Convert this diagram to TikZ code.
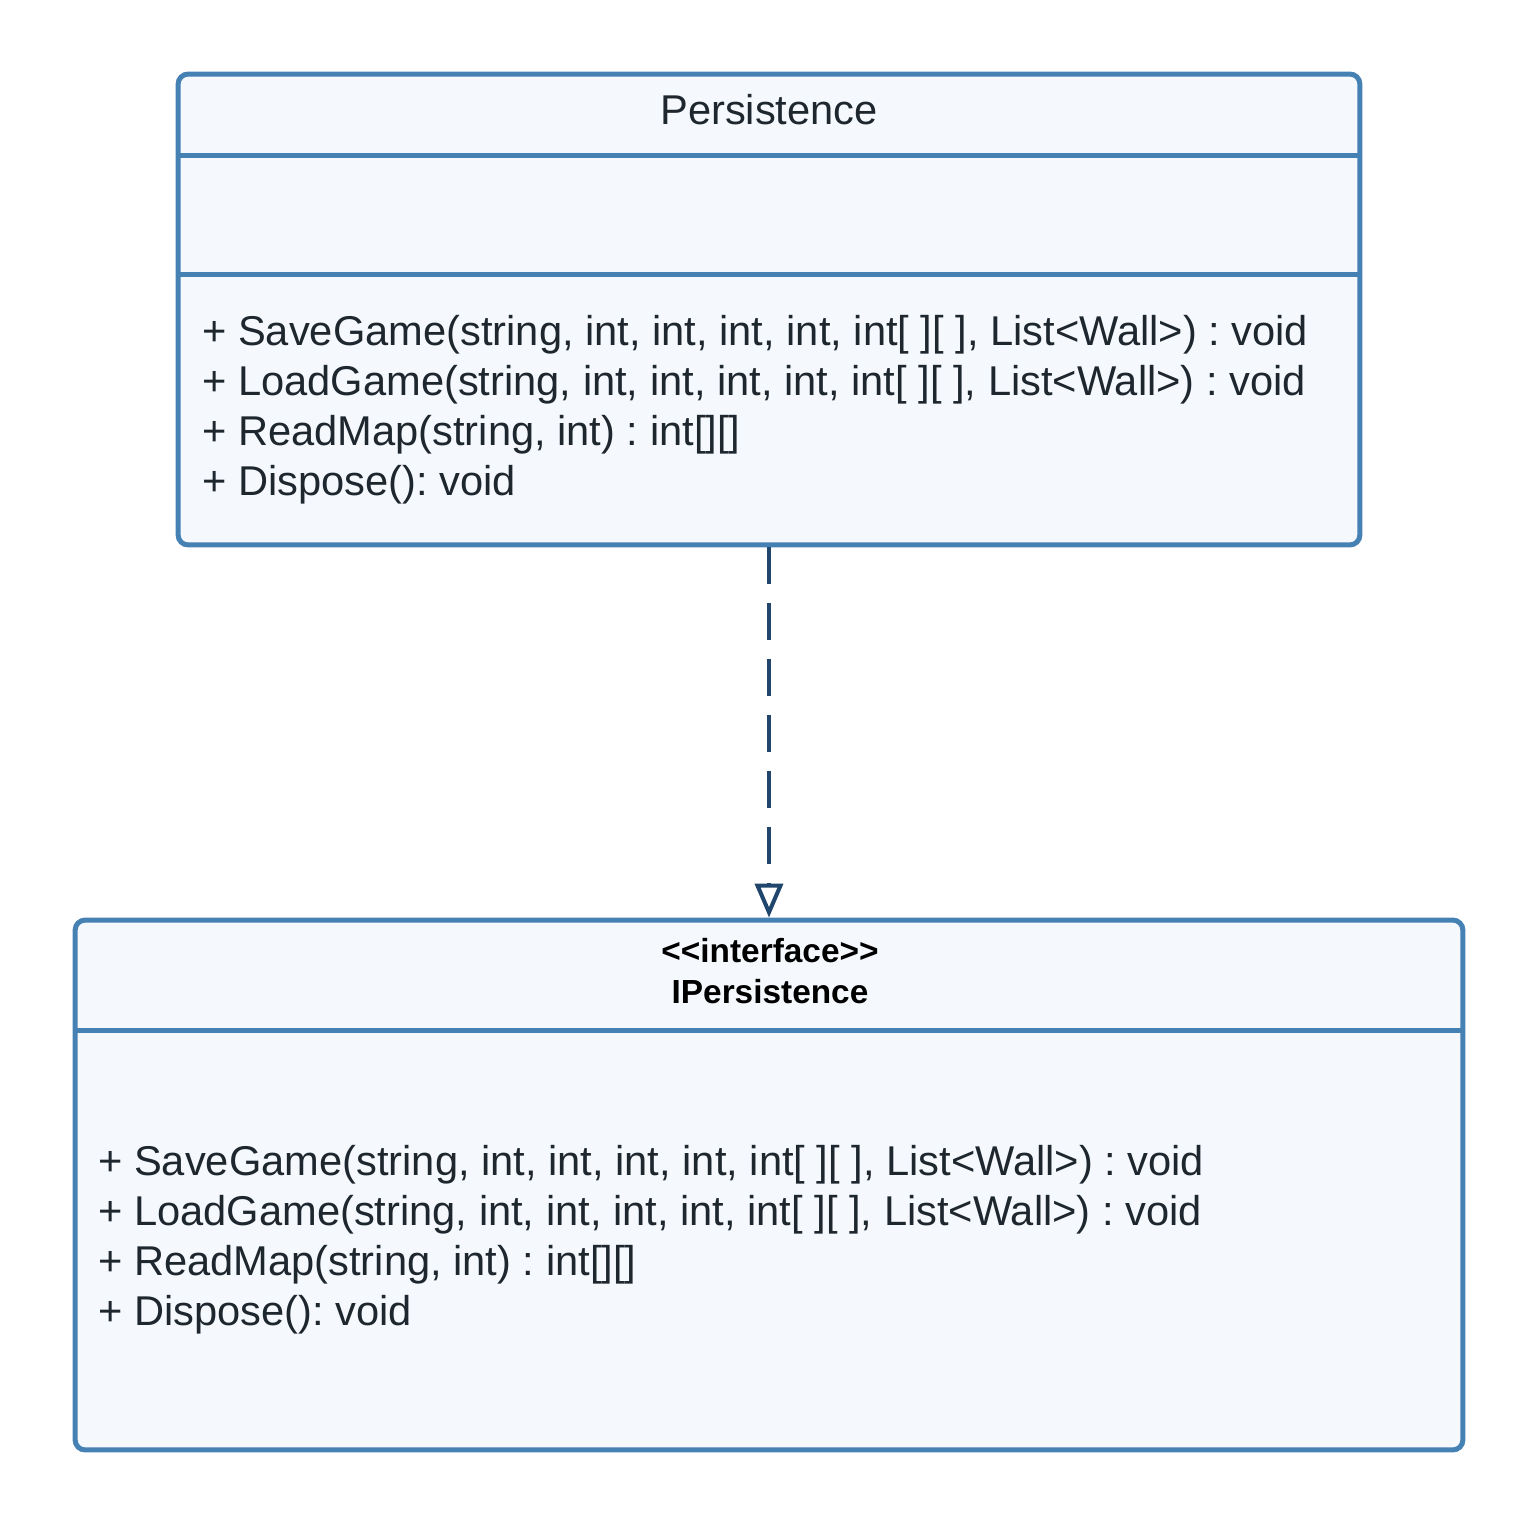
\documentclass[tikz,border=0pt]{standalone}
\usepackage{fontspec}
\setmainfont{Liberation Sans}
\usetikzlibrary{arrows.meta}
\frenchspacing
\definecolor{umlblue}{RGB}{70,129,180}
\definecolor{umlfill}{RGB}{245,249,254}
\definecolor{umlarrow}{RGB}{33,70,110}
\definecolor{umltext}{RGB}{30,38,46}
\tikzset{
  classbox/.style={draw=umlblue, fill=umlfill, line width=2.85pt, rounded corners=0.2cm, shape=rectangle, inner sep=0pt},
  divider/.style={draw=umlblue, line width=2.85pt},
  member/.style={anchor=base west, inner sep=0pt, text=umltext, font=\fontsize{23.7}{28}\selectfont},
  title/.style={anchor=base, inner sep=0pt, text=umltext, font=\fontsize{23.7}{28}\selectfont},
  stereo/.style={anchor=base, inner sep=0pt, text=black, font=\fontsize{19}{22}\selectfont\bfseries},
  realize/.style={draw=umlarrow, line width=2.3pt, dash pattern=on 0.74cm off 0.38cm, -{Triangle[open, length=0.68cm, width=0.56cm, line width=2.3pt]}}
}
\begin{document}
\begin{tikzpicture}[x=0.02cm, y=-0.02cm]
\useasboundingbox (0,0) rectangle (1539,1526);
% class Persistence
\draw (769, 309.5) node[classbox, minimum width=23.64cm, minimum height=9.42cm] (persist) {};
\draw[divider] (persist.west |- 0,155) -- (persist.east |- 0,155);
\draw[divider] (persist.west |- 0,274) -- (persist.east |- 0,274);
\draw (769, 124) node[title] (persistname) {Persistence};
\draw (202, 345) node[member] (psave) {+ SaveGame(string, int, int, int, int, int[ ][ ], List<Wall>) : void};
\draw (202, 395) node[member] (pload) {+ LoadGame(string, int, int, int, int, int[ ][ ], List<Wall>) : void};
\draw (202, 445) node[member] (pread) {+ ReadMap(string, int) : int[][]};
\draw (202, 495) node[member] (pdispose) {+ Dispose(): void};
% interface IPersistence
\draw (769, 1185) node[classbox, minimum width=27.76cm, minimum height=10.6cm] (ipersist) {};
\draw[divider] (ipersist.west |- 0,1030) -- (ipersist.east |- 0,1030);
\draw (770, 962) node[stereo] (istereo) {{<}{<}interface{>}{>}};
\draw (770, 1003) node[stereo] (iname) {IPersistence};
\draw (98, 1175) node[member] (isave) {+ SaveGame(string, int, int, int, int, int[ ][ ], List<Wall>) : void};
\draw (98, 1225) node[member] (iload) {+ LoadGame(string, int, int, int, int, int[ ][ ], List<Wall>) : void};
\draw (98, 1275) node[member] (iread) {+ ReadMap(string, int) : int[][]};
\draw (98, 1325) node[member] (idispose) {+ Dispose(): void};
% realization
\draw[realize] (persist.south) -- (ipersist.north);
\end{tikzpicture}
\end{document}
